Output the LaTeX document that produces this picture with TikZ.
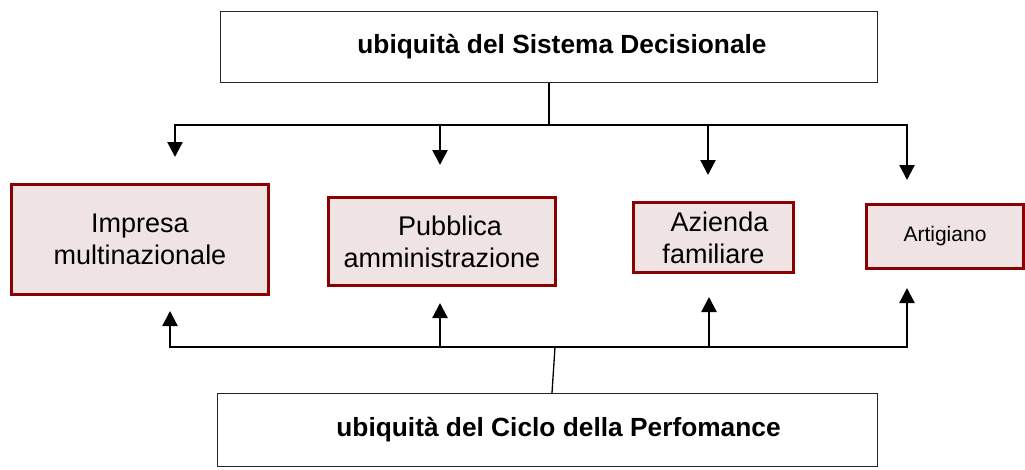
\documentclass[tikz,border=0pt]{standalone}
\usepackage{fontspec}
\setmainfont{Liberation Sans}
\usetikzlibrary{arrows.meta}
\definecolor{boxred}{HTML}{8B0000}
\definecolor{boxpink}{HTML}{F0E3E4}
\tikzset{%
  bigbox/.style  = {shape=rectangle, draw=black!85, line width=1.3pt,%
                    fill=white, inner sep=0pt,%
                    font=\fontsize{26.3}{30}\selectfont\bfseries},%
  firmbox/.style = {shape=rectangle, draw=boxred, line width=3pt,%
                    fill=boxpink, align=center, inner sep=0pt,%
                    font=\fontsize{27}{32}\selectfont},%
  bus/.style     = {line width=2.5pt, line cap=rect},%
  tip/.style     = {line width=2.3pt, -{Triangle[width=15pt,length=15pt]}}%
}

\begin{document}
\begin{tikzpicture}[x=1pt, y=-1pt]
  \useasboundingbox (0,0) rectangle (1025,469);
  \node[bigbox, minimum width=657pt, minimum height=71pt] (sd) at (549,47)
    {\hspace*{26pt}ubiquità del Sistema Decisionale};
  \node[bigbox, minimum width=660pt, minimum height=73pt] (cp) at (547.5,430)
    {\hspace*{22pt}ubiquità del Ciclo della Perfomance};
  \node[firmbox, minimum width=257pt, minimum height=110pt] (impresa) at (140,239.5)
    {Impresa\\multinazionale};
  \node[firmbox, minimum width=227pt, minimum height=88pt] (pa) at (442,241.5)
    {\hspace*{16pt}Pubblica\\amministrazione};
  \node[firmbox, minimum width=160pt, minimum height=70pt] (azienda) at (713.5,237.5)
    {\hspace*{12pt}Azienda\\familiare};
  \node[firmbox, minimum width=157pt, minimum height=64pt,
        font=\fontsize{21}{25}\selectfont] (artigiano) at (945,236.5) {Artigiano};
  % sistema decisionale -> organizzazioni
  \coordinate (tj) at (549,125);
  \draw[line width=1.3pt] (sd) -- (tj);
  \foreach \i/\x/\y in {1/175/157, 2/440/165, 3/708/175, 4/907/180} {
    \coordinate (d\i) at (\x,125);
    \coordinate (t\i) at (\x,\y);
    \draw[tip] (d\i) -- (t\i);
  }
  \draw[bus] (d1) -- (d4);
  % organizzazioni <- ciclo della performance
  \coordinate (bj) at (555,347);
  \draw[line width=1.3pt] (bj) -- ([xshift=4.5pt]cp.north);
  \foreach \i/\x/\y in {1/170/311, 2/440/303, 3/709/297, 4/907/288} {
    \coordinate (u\i) at (\x,347);
    \coordinate (h\i) at (\x,\y);
    \draw[tip] (u\i) -- (h\i);
  }
  \draw[bus] (u1) -- (u4);
\end{tikzpicture}
\end{document}
